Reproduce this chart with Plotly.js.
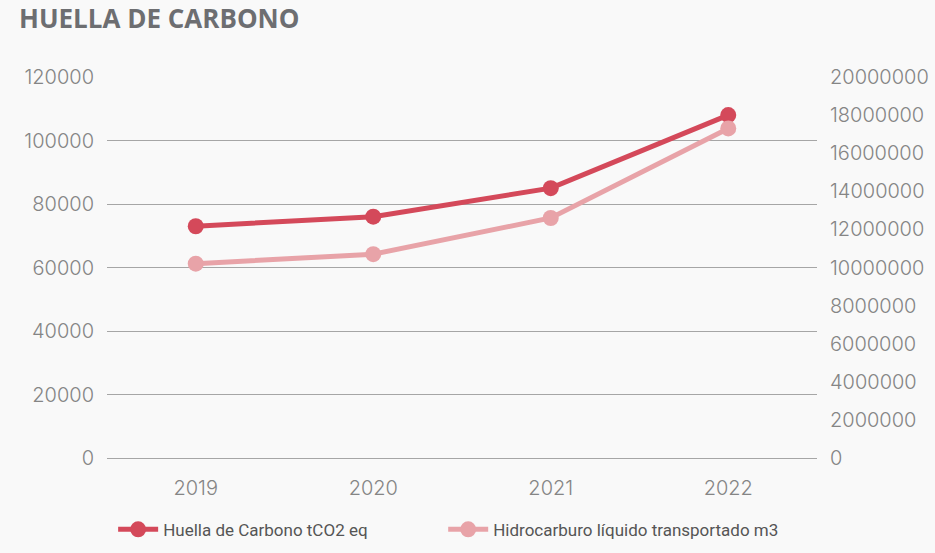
<!DOCTYPE html>
<html>
<head>
<meta charset="utf-8">
<script src="https://cdn.plot.ly/plotly-3.0.1.min.js"></script>
<style>
html,body{margin:0;padding:0;background:#f9f9f9;}
#chart{width:935px;height:553px;}
</style>
</head>
<body>
<div id="chart"></div>
<script>
const years = ['2019', '2020', '2021', '2022'];
const huella = [73000, 76000, 85000, 108000];
const hidrocarburo = [10200000, 10700000, 12600000, 17300000];
const seriesNames = ['Huella de Carbono tCO2 eq', 'Hidrocarburo líquido transportado m3'];

const tickFont = {family: 'Inter, "DejaVu Sans", sans-serif', size: 20, color: '#858585', weight: 300};
const legendFont = {family: '"Liberation Sans Narrow", Roboto, sans-serif', size: 17, color: '#555555'};

const traces = [
  {
    x: years, y: huella, name: seriesNames[0], type: 'scatter', mode: 'lines+markers',
    line: {color: '#d4495a', width: 5}, marker: {color: '#d4495a', size: 16},
    yaxis: 'y', legend: 'legend'
  },
  {
    x: years, y: hidrocarburo, name: seriesNames[1], type: 'scatter', mode: 'lines+markers',
    line: {color: '#e8a3a8', width: 5}, marker: {color: '#e8a3a8', size: 16},
    yaxis: 'y2', legend: 'legend2'
  }
];

const layout = {
  width: 935, height: 553,
  paper_bgcolor: '#f9f9f9', plot_bgcolor: '#f9f9f9',
  margin: {l: 107, r: 118, t: 77, b: 95},
  title: {
    text: '<b>HUELLA DE CARBONO</b>',
    x: 0, xref: 'container', xanchor: 'left',
    y: 1, yref: 'container', yanchor: 'top',
    pad: {l: 19, t: 10},
    font: {family: '"Open Sans", sans-serif', size: 26, color: '#6d6e71'}
  },
  showlegend: true,
  legend: {
    orientation: 'h',
    xref: 'container', x: 0.121, xanchor: 'left',
    yref: 'container', y: 0.042, yanchor: 'middle',
    font: legendFont, itemwidth: 40, bgcolor: 'rgba(0,0,0,0)'
  },
  legend2: {
    orientation: 'h',
    xref: 'container', x: 0.474, xanchor: 'left',
    yref: 'container', y: 0.042, yanchor: 'middle',
    font: legendFont, itemwidth: 40, bgcolor: 'rgba(0,0,0,0)'
  },
  xaxis: {
    type: 'category', range: [-0.5, 3.5],
    showgrid: false, zeroline: false, showline: false, ticks: '',
    tickfont: tickFont, ticklabelstandoff: 16
  },
  yaxis: {
    range: [0, 120000], dtick: 20000, tick0: 0,
    showgrid: true, gridcolor: '#a6a6a6', gridwidth: 1,
    zeroline: true, zerolinecolor: '#a6a6a6', zerolinewidth: 1,
    showline: false, ticks: '',
    tickfont: tickFont, ticklabelstandoff: 12, tickformat: 'd'
  },
  yaxis2: {
    overlaying: 'y', side: 'right',
    range: [0, 20000000], dtick: 2000000, tick0: 0,
    showgrid: false, zeroline: false, showline: false, ticks: '',
    tickfont: tickFont, ticklabelstandoff: 12, tickformat: 'd'
  }
};

Plotly.newPlot('chart', traces, layout, {displayModeBar: false, staticPlot: true});
</script>
</body>
</html>
